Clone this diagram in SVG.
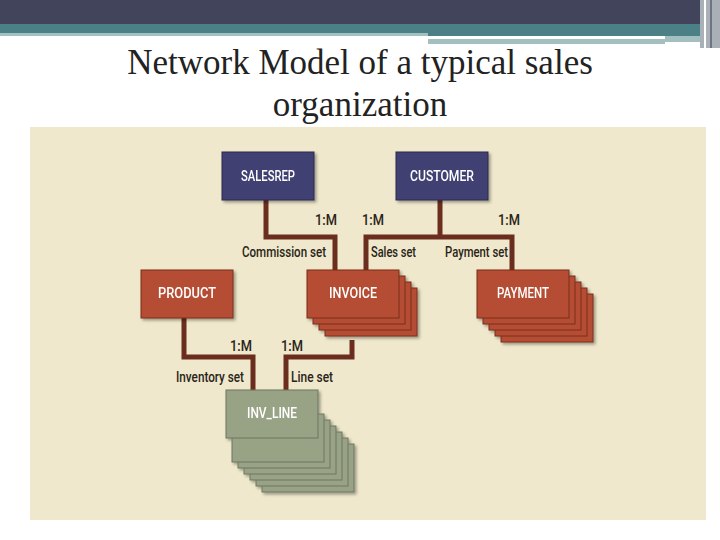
<svg xmlns="http://www.w3.org/2000/svg" width="720" height="540" viewBox="0 0 720 540">
<defs>
<style>
.lbl{font-family:Roboto,"Liberation Sans",sans-serif;font-size:14.5px;font-weight:500;fill:#2a2418}
.nt{font-family:Roboto,"Liberation Sans",sans-serif;font-size:15px;font-weight:500;fill:#fff;text-anchor:middle}
.c{fill:none;stroke:#6b2e1e;stroke-width:5}
.blue{fill:#3f3f72;stroke:#2a2a50;stroke-width:1}
.red{fill:#b54e34;stroke:#7a2e1c;stroke-width:1}
.grn{fill:#98a285;stroke:#6e7660;stroke-width:1}
</style>
<filter id="sh" x="-10%" y="-10%" width="130%" height="140%"><feDropShadow dx="2" dy="2" stdDeviation="1.5" flood-color="#000" flood-opacity="0.35"/></filter>
</defs>
<rect width="720" height="540" fill="#fff"/>
<rect x="0" y="0" width="720" height="24" fill="#41445a"/>
<rect x="0" y="24" width="700" height="12" fill="#4a8086"/>
<rect x="0" y="33" width="428" height="3" fill="#a4bfc0"/>
<rect x="428" y="39" width="237" height="5" fill="#a4bfc0"/>
<rect x="665" y="36" width="40" height="6" fill="#a4bfc0"/>
<rect x="700" y="0" width="20" height="48" fill="#a9b0b8"/>
<rect x="704" y="0" width="2" height="48" fill="#fff"/>
<rect x="710" y="0" width="2" height="48" fill="#6e7480"/>
<text x="360" y="74" font-family="Liberation Serif,serif" font-size="35" text-anchor="middle" fill="#222">Network Model of a typical sales</text>
<text x="360" y="116" font-family="Liberation Serif,serif" font-size="35" text-anchor="middle" fill="#222">organization</text>
<rect x="30" y="127" width="676" height="393" fill="#efe8cc"/>
<g id="connectors">
<polyline class="c" points="266,200 266,237 335,237 335,272"/>
<line class="c" x1="440" y1="200" x2="440" y2="237"/>
<polyline class="c" points="366,272 366,237 512,237 512,272"/>
<polyline class="c" points="184,318 184,357 253,357 253,392"/>
<polyline class="c" points="352,340 352,357 286,357 286,392"/>
</g>
<g id="labels">
<text class="lbl" x="315" y="225" textLength="22" lengthAdjust="spacingAndGlyphs">1:M</text>
<text class="lbl" x="362" y="225" textLength="22" lengthAdjust="spacingAndGlyphs">1:M</text>
<text class="lbl" x="498" y="225" textLength="22" lengthAdjust="spacingAndGlyphs">1:M</text>
<text class="lbl" x="242" y="257" textLength="84" lengthAdjust="spacingAndGlyphs">Commission set</text>
<text class="lbl" x="371" y="257" textLength="45" lengthAdjust="spacingAndGlyphs">Sales set</text>
<text class="lbl" x="445" y="257" textLength="63" lengthAdjust="spacingAndGlyphs">Payment set</text>
<text class="lbl" x="230" y="351" textLength="22" lengthAdjust="spacingAndGlyphs">1:M</text>
<text class="lbl" x="281" y="351" textLength="22" lengthAdjust="spacingAndGlyphs">1:M</text>
<text class="lbl" x="176" y="382" textLength="68" lengthAdjust="spacingAndGlyphs">Inventory set</text>
<text class="lbl" x="291" y="382" textLength="42" lengthAdjust="spacingAndGlyphs">Line set</text>
</g>
<g id="salesrep" filter="url(#sh)"><rect class="blue" x="222" y="152" width="92" height="48"/><text class="nt" x="268" y="181" textLength="54" lengthAdjust="spacingAndGlyphs">SALESREP</text></g>
<g id="customer" filter="url(#sh)"><rect class="blue" x="396" y="152" width="92" height="48"/><text class="nt" x="442" y="181" textLength="64" lengthAdjust="spacingAndGlyphs">CUSTOMER</text></g>
<g id="product" filter="url(#sh)"><rect class="red" x="141" y="270" width="92" height="48"/><text class="nt" x="187" y="298" textLength="58" lengthAdjust="spacingAndGlyphs">PRODUCT</text></g>
<g id="invoice" filter="url(#sh)">
<rect class="red" x="325" y="288" width="92" height="48"/>
<rect class="red" x="319" y="282" width="92" height="48"/>
<rect class="red" x="313" y="276" width="92" height="48"/>
<rect class="red" x="307" y="270" width="92" height="48"/>
<text class="nt" x="353" y="298" textLength="48" lengthAdjust="spacingAndGlyphs">INVOICE</text></g>
<g id="payment" filter="url(#sh)">
<rect class="red" x="501" y="294" width="92" height="48"/>
<rect class="red" x="495" y="288" width="92" height="48"/>
<rect class="red" x="489" y="282" width="92" height="48"/>
<rect class="red" x="483" y="276" width="92" height="48"/>
<rect class="red" x="477" y="270" width="92" height="48"/>
<text class="nt" x="523" y="298" textLength="52" lengthAdjust="spacingAndGlyphs">PAYMENT</text></g>
<g id="inv_line" filter="url(#sh)">
<rect class="grn" x="262" y="444" width="92" height="48"/>
<rect class="grn" x="256" y="438" width="92" height="48"/>
<rect class="grn" x="250" y="432" width="92" height="48"/>
<rect class="grn" x="244" y="426" width="92" height="48"/>
<rect class="grn" x="238" y="420" width="92" height="48"/>
<rect class="grn" x="232" y="414" width="92" height="48"/>
<rect class="grn" x="226" y="390" width="92" height="48"/>
<text class="nt" x="272" y="418" textLength="50" lengthAdjust="spacingAndGlyphs">INV_LINE</text></g>
</svg>
